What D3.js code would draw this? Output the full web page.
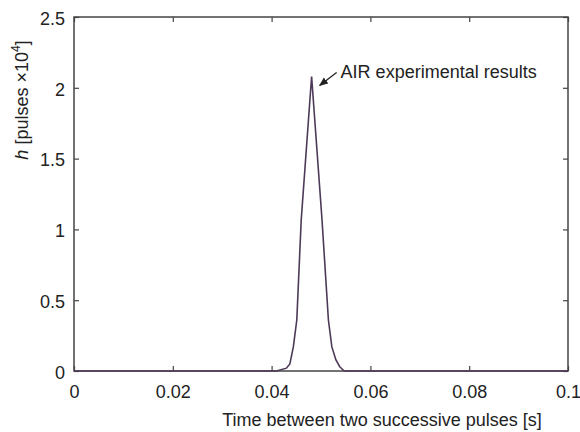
<!DOCTYPE html>
<html><head><meta charset="utf-8">
<script src="https://cdn.jsdelivr.net/npm/d3@7"></script>
<style>body{margin:0;background:#fff}svg{display:block}text{font-family:"Liberation Sans",Arial,sans-serif;fill:#222}</style>
</head><body><svg id="c" width="580" height="432"></svg>
<script>
const times  = [0, 0.0410, 0.0430, 0.0437, 0.0444, 0.0451, 0.0460, 0.0481, 0.0502, 0.0515, 0.0522, 0.0530, 0.0538, 0.0547, 0.1];
const counts = [0, 0,      0.02,   0.05,   0.17,   0.36,   1.07,   2.08,   1.07,   0.36,   0.17,   0.08,   0.03,   0,      0];
const xTicks = [0, 0.02, 0.04, 0.06, 0.08, 0.1];
const yTicks = [0, 0.5, 1, 1.5, 2, 2.5];
const xTickLabels = ["0", "0.02", "0.04", "0.06", "0.08", "0.1"];
const yTickLabels = ["0", "0.5", "1", "1.5", "2", "2.5"];
const annotation = "AIR experimental results";

const svg = d3.select("#c");
const L = 74, R = 568, T = 17, B = 371;
const x = d3.scaleLinear().domain([0, 0.1]).range([L, R]);
const y = d3.scaleLinear().domain([0, 2.5]).range([B, T]);
const axisColor = "#444";
const FS = 18;

// frame
svg.append("rect").attr("x", L).attr("y", T).attr("width", R - L).attr("height", B - T)
  .attr("fill", "none").attr("stroke", axisColor).attr("stroke-width", 1.5);

// axes with inward ticks
const gx = svg.append("g").attr("transform", `translate(0,${B})`)
  .call(d3.axisBottom(x).tickValues(xTicks).tickFormat((d, i) => xTickLabels[i]).tickSizeInner(-5).tickSizeOuter(0).tickPadding(14));
const gy = svg.append("g").attr("transform", `translate(${L},0)`)
  .call(d3.axisLeft(y).tickValues(yTicks).tickFormat((d, i) => yTickLabels[i]).tickSizeInner(-5).tickSizeOuter(0).tickPadding(9));
const gt = svg.append("g").attr("transform", `translate(0,${T})`)
  .call(d3.axisTop(x).tickValues(xTicks).tickFormat("").tickSizeInner(-5).tickSizeOuter(0));
const gr = svg.append("g").attr("transform", `translate(${R},0)`)
  .call(d3.axisRight(y).tickValues(yTicks).tickFormat("").tickSizeInner(-5).tickSizeOuter(0));
[gx, gy, gt, gr].forEach(g => {
  g.select(".domain").remove();
  g.selectAll(".tick line").attr("stroke", axisColor).attr("stroke-width", 1.2);
  g.selectAll(".tick text").attr("font-size", FS).attr("fill", "#222")
    .style("font-family", '"Liberation Sans",Arial,sans-serif');
});
gy.selectAll(".tick text").attr("dy", "0.4em");

// data line
const line = d3.line().x((d, i) => x(times[i])).y(d => y(d));
svg.append("path").datum(counts).attr("d", line)
  .attr("fill", "none").attr("stroke", "#4d3a58").attr("stroke-width", 1.6);

// annotation
const pi = counts.indexOf(d3.max(counts));
const px = x(times[pi]), py = y(counts[pi]);
const ax0 = px + 8, ay0 = py + 9, ax1 = px + 25, ay1 = py - 4;
svg.append("defs").append("marker").attr("id", "ah").attr("viewBox", "0 0 10 10")
  .attr("refX", 9).attr("refY", 5).attr("markerWidth", 7).attr("markerHeight", 7).attr("orient", "auto")
  .append("path").attr("d", "M0,1 L10,5 L0,9 Z").attr("fill", "#222");
svg.append("line").attr("x1", ax1).attr("y1", ay1).attr("x2", ax0).attr("y2", ay0)
  .attr("stroke", "#222").attr("stroke-width", 1.3).attr("marker-end", "url(#ah)");
svg.append("text").attr("x", px + 29).attr("y", py + 2).attr("font-size", FS).text(annotation);

// axis titles
svg.append("text").attr("x", 382).attr("y", 426).attr("text-anchor", "middle").attr("font-size", FS)
  .text("Time between two successive pulses [s]");
const yl = svg.append("text").attr("transform", "translate(28,100) rotate(-90)").attr("text-anchor", "middle").attr("font-size", FS);
yl.append("tspan").attr("font-style", "italic").text("h");
yl.append("tspan").text(" [pulses \u00d710");
yl.append("tspan").attr("font-size", 12).attr("dy", -8).text("4");
yl.append("tspan").attr("dy", 8).text("]");
</script></body></html>
